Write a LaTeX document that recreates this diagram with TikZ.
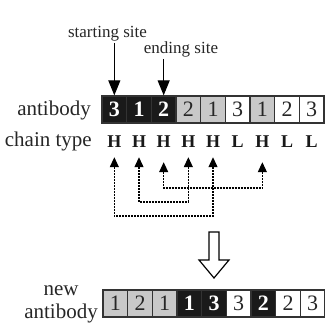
\documentclass[tikz,border=0pt]{standalone}
\usepackage{fontspec}
\setmainfont{Liberation Serif}
\usetikzlibrary{arrows.meta}
\definecolor{boxblack}{HTML}{1A1A1A}
\definecolor{boxgray}{HTML}{C8C8C8}
\definecolor{edgecol}{HTML}{333333}
\begin{document}
\begin{tikzpicture}[x=1bp,y=-1bp,
  cell/.style={draw=edgecol, line width=1.3bp, minimum width=24.67bp, minimum height=27bp, inner sep=0pt, font=\fontsize{22bp}{22bp}\selectfont, text=black!85},
  blk/.style={cell, fill=boxblack, text=white, font=\fontsize{22bp}{22bp}\selectfont\bfseries},
  gry/.style={cell, fill=boxgray},
  wht/.style={cell, fill=white},
  lbl/.style={inner sep=0pt, font=\fontsize{21bp}{21bp}\selectfont, text=black!85},
  toplbl/.style={inner sep=2bp, font=\fontsize{17bp}{17bp}\selectfont, text=black!85},
  chain/.style={inner sep=0pt, anchor=base, font=\fontsize{18bp}{18bp}\selectfont\bfseries, text=black!90},
  siteline/.style={line width=1.1bp, -{Triangle[width=12bp,length=15bp]}},
  swapline/.style={line width=1.2bp, dash pattern=on 2bp off 1bp, {Triangle[width=9bp,length=10bp]}-{Triangle[width=9bp,length=10bp]}},
  hollow/.style={draw=black, line width=1.2bp, fill=white, line join=miter}
]
\useasboundingbox (0,0) rectangle (325,328);
% top antibody row
\foreach \s/\d [count=\i] in {blk/3,blk/1,blk/2,gry/2,gry/1,wht/3,gry/1,wht/2,wht/3}
  \node[\s] (a\i) at ({102+24.67*(\i-0.5)},109.5) {\d};
% chain types
\foreach \c [count=\i] in {H,H,H,H,H,L,H,L,L}
  \node[chain] (c\i) at ({102+24.67*(\i-0.5)},147) {\c};
% new antibody row
\foreach \s/\d [count=\i] in {gry/1,gry/2,gry/1,blk/1,blk/3,wht/3,blk/2,wht/2,wht/3}
  \node[\s] (n\i) at ({103+24.67*(\i-0.5)},303.5) {\d};
% labels
\node[lbl, anchor=base east] (lab1) at (91,115) {antibody};
\node[lbl, anchor=base east] (lab2) at (92,146) {chain type};
\node[lbl, anchor=base] (lab3) at (61,295) {new};
\node[lbl, anchor=base] (lab4) at (61,318) {antibody};
% site labels and arrows
\node[toplbl, anchor=base] (start) at (107.5,37) {starting site};
\node[toplbl, anchor=base] (endsite) at (181,53) {ending site};
\draw[siteline] (start.south -| a1.north) -- (a1.north);
\draw[siteline] (endsite.south -| a3.north) -- (a3.north);
% swap connectors
\coordinate (lv1) at (0,216);
\coordinate (lv2) at (0,202);
\coordinate (lv3) at (0,188);
\draw[swapline, shorten <=10bp, shorten >=10bp] (c1.south) -- (c1.south |- lv1) -| (c5.south);
\draw[swapline, shorten <=10bp, shorten >=10bp] (c2.south) -- (c2.south |- lv2) -| (c4.south);
\draw[swapline, shorten <=15bp, shorten >=15bp] (c3.south) -- (c3.south |- lv3) -| (c7.south);
% hollow arrow
\draw[hollow] (209,232) -- (219,232) -- (219,260) -- (229,260) -- (214,278) -- (199,260) -- (209,260) -- cycle;
\end{tikzpicture}
\end{document}
